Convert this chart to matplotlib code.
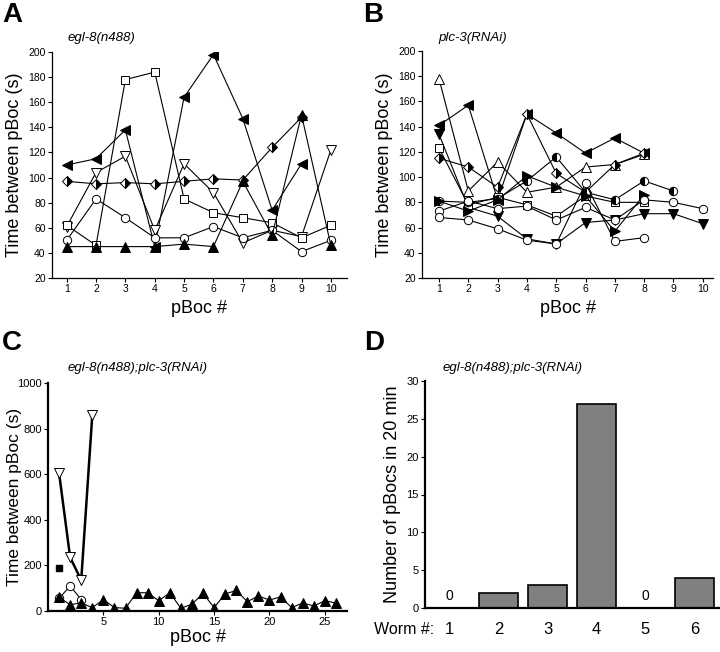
import matplotlib
matplotlib.use("Agg")
import matplotlib.pyplot as plt

plt.rcParams['font.family'] = ['Liberation Sans', 'DejaVu Sans']

# Panel A - egl-8(n488), one list per worm
a_left_tri = [110, 115, 138, 45, 164, 198, 147, 74, 111]
a_diamond = [97, 95, 96, 95, 97, 99, 98, 124, 148]
a_down_tri = [61, 104, 117, 58, 111, 88, 48, 58, 53, 122]
a_square = [62, 46, 178, 184, 83, 72, 68, 64, 52, 62]
a_circle = [50, 83, 68, 52, 52, 61, 52, 58, 41, 50]
a_up_tri = [45, 45, 45, 45, 47, 45, 97, 54, 150, 46]

# Panel B - plc-3(RNAi)
b_left_tri = [141, 157, 82, 150, 135, 119, 131, 119]
b_up_open = [178, 89, 112, 88, 92, 108, 110, 118]
b_down_fill = [134, 76, 69, 51, 47, 64, 66, 71, 71, 63]
b_square = [123, 78, 84, 78, 69, 85, 80, 80]
b_diamond = [115, 108, 92, 150, 103, 88, 110, 119]
b_half_circle = [81, 80, 83, 97, 116, 88, 82, 97, 89]
b_right_tri = [81, 73, 82, 101, 92, 85, 57, 86]
b_circle1 = [73, 81, 75, 77, 66, 76, 66, 82, 80, 75]
b_circle2 = [68, 66, 59, 50, 47, 95, 49, 52]

# Panel C - egl-8(n488);plc-3(RNAi)
c_up_tri = [60, 28, 35, 15, 50, 15, 12, 80, 80, 45, 80, 12, 30, 77, 15,
            75, 90, 41, 66, 48, 62, 15, 35, 22, 45, 35]
c_circle = [55, 110, 50]
c_down_tri = [605, 235, 135, 860]
c_square = [190]

# Panel D
worms = [1, 2, 3, 4, 5, 6]
pbocs = [0, 2, 3, 27, 0, 4]

W, H = 720, 652
fig = plt.figure(figsize=(W / 100, H / 100), dpi=100)


def px_axes(left, top, right, bottom):
    return fig.add_axes([left / W, 1 - bottom / H, (right - left) / W, (bottom - top) / H])


def style(ax, lw, size):
    for s in ['top', 'right']:
        ax.spines[s].set_visible(False)
    for s in ['left', 'bottom']:
        ax.spines[s].set_linewidth(lw)
    ax.tick_params(direction='out', length=3, width=0.8, labelsize=size, pad=1.5)


def xs(vals):
    return list(range(1, len(vals) + 1))


def line(ax, vals, marker, ms=6.5, fc='white', lw=0.8, **kw):
    ax.plot(xs(vals), vals, color='black', lw=lw, marker=marker, ms=ms,
            mfc=fc, mec='black', mew=0.7, **kw)


half = dict(fillstyle='right', mfcalt='white')

# ---- A ----
axA = px_axes(52, 52, 347, 278)
line(axA, a_left_tri, '<', fc='black')
line(axA, a_diamond, 'D', ms=5, fc='black', **half)
line(axA, a_down_tri, 'v')
line(axA, a_square, 's', ms=5.5)
line(axA, a_circle, 'o', ms=6)
line(axA, a_up_tri, '^', fc='black')
axA.set_xlim(0.5, 10.55)
axA.set_ylim(20, 200)
axA.set_xticks(range(1, 11))
axA.set_yticks(range(20, 201, 20))
style(axA, 0.9, 7.5)
axA.set_ylabel('Time between pBoc (s)', fontsize=13)
axA.set_xlabel('pBoc #', fontsize=13)
axA.text(0.054, 1.062, 'egl-8(n488)', transform=axA.transAxes, style='italic',
         fontsize=9.5, va='center')

# ---- B ----
axB = px_axes(422, 51, 713, 278)
line(axB, b_left_tri, '<', fc='black')
line(axB, b_up_open, '^')
line(axB, b_down_fill, 'v', fc='black')
line(axB, b_square, 's', ms=5.5)
line(axB, b_diamond, 'D', ms=5, fc='black', **half)
line(axB, b_half_circle, 'o', ms=6, fc='black', fillstyle='left', mfcalt='white')
line(axB, b_right_tri, '>', fc='black')
line(axB, b_circle1, 'o', ms=6)
line(axB, b_circle2, 'o', ms=6)
axB.set_xlim(0.42, 10.35)
axB.set_ylim(20, 200)
axB.set_xticks(range(1, 11))
axB.set_yticks(range(20, 201, 20))
style(axB, 0.9, 7.5)
axB.set_ylabel('Time between pBoc (s)', fontsize=13)
axB.set_xlabel('pBoc #', fontsize=13)
axB.text(0.055, 1.057, 'plc-3(RNAi)', transform=axB.transAxes, style='italic',
         fontsize=9.5, va='center')

# ---- C ----
axC = px_axes(48, 383, 347, 611)
line(axC, c_down_tri, 'v', lw=1.8)
line(axC, c_circle, 'o', ms=6)
line(axC, c_up_tri, '^', fc='black')
axC.plot(xs(c_square), c_square, ls='none', marker='s', ms=4.5, color='black')
axC.set_xlim(0, 27)
axC.set_ylim(0, 1000)
axC.set_xticks([5, 10, 15, 20, 25])
axC.set_yticks(range(0, 1001, 200))
style(axC, 1.6, 8)
axC.set_ylabel('Time between pBoc (s)', fontsize=12.5)
axC.yaxis.set_label_coords(-0.088, 0.5)
axC.set_xlabel('pBoc #', fontsize=13, labelpad=1)
axC.text(0.067, 1.066, 'egl-8(n488);plc-3(RNAi)', transform=axC.transAxes,
         style='italic', fontsize=9.5, va='center')

# ---- D ----
axD = px_axes(425, 381, 719, 608)
axD.bar(worms, pbocs, width=0.8, color='#808080', edgecolor='black', linewidth=1.2)
for w, n in zip(worms, pbocs):
    if n == 0:
        axD.text(w, 0.6, '0', ha='center', va='bottom', fontsize=10)
axD.set_xlim(0.5, 6.5)
axD.set_ylim(0, 30)
axD.set_yticks(range(0, 31, 5))
axD.set_xticks(worms)
style(axD, 1.6, 8)
axD.tick_params(axis='x', length=0, labelsize=12, pad=10)
axD.set_ylabel('Number of pBocs in 20 min', fontsize=13)
axD.text(-0.072, -0.062, 'Worm #:', transform=axD.transAxes, fontsize=11.5,
         ha='center', va='top')
axD.text(0.058, 1.057, 'egl-8(n488);plc-3(RNAi)', transform=axD.transAxes,
         style='italic', fontsize=9.5, va='center')

# panel letters
for lab, x, y in [('A', 2, 2), ('B', 363, 2), ('C', 2, 330), ('D', 364, 330)]:
    fig.text(x / W, 1 - y / H, lab, fontsize=20, fontweight='bold', va='top')

fig.savefig('out.png', dpi=100)
